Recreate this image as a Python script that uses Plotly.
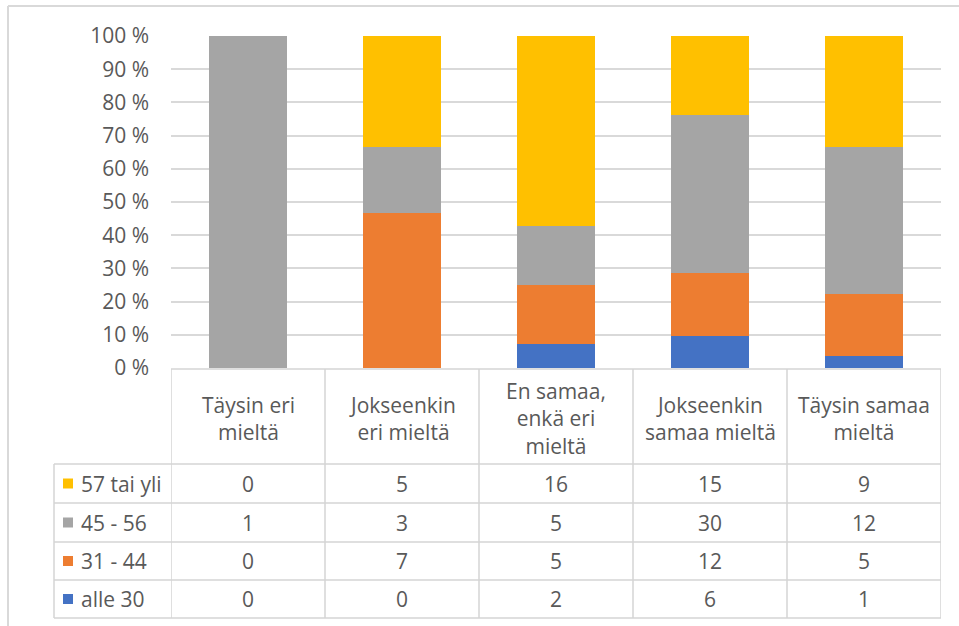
import plotly.graph_objects as go

# ---- data ----
categories = ["Täysin eri mieltä", "Jokseenkin eri mieltä", "En samaa, enkä eri mieltä",
              "Jokseenkin samaa mieltä", "Täysin samaa mieltä"]
header_labels = ["Täysin eri<br>mieltä", "Jokseenkin<br>eri mieltä", "En samaa,<br>enkä eri<br>mieltä",
                 "Jokseenkin<br>samaa mieltä", "Täysin samaa<br>mieltä"]
series_names = ["57 tai yli", "45 - 56", "31 - 44", "alle 30"]   # table order (top to bottom)
v_57 = [0, 5, 16, 15, 9]
v_45 = [1, 3, 5, 30, 12]
v_31 = [0, 7, 5, 12, 5]
v_30 = [0, 0, 2, 6, 1]
series_values = [v_57, v_45, v_31, v_30]
series_colors = ["#FFC000", "#A5A5A5", "#ED7D31", "#4472C4"]
y_ticks = [0, 10, 20, 30, 40, 50, 60, 70, 80, 90, 100]

W, H = 959, 626
FONT = "'Open Sans', 'Liberation Sans', sans-serif"
FS = 21
TXT = "#595959"
LINE = "#D4D4D4"

def px(x):
    return x / W

def py(y):
    return 1 - y / H

fig = go.Figure()
# stack bottom-up: alle 30 first
for name, vals, col in reversed(list(zip(series_names, series_values, series_colors))):
    fig.add_trace(go.Bar(x=categories, y=vals, name=name, marker=dict(color=col, line=dict(width=0))))

shapes = []
# outer frame (top & left visible)
shapes.append(dict(type="line", xref="paper", yref="paper", x0=px(8), x1=1, y0=py(6), y1=py(6),
                   line=dict(color="#D9D9D9", width=2)))
shapes.append(dict(type="line", xref="paper", yref="paper", x0=px(8), x1=px(8), y0=py(6), y1=0,
                   line=dict(color="#D9D9D9", width=2)))

row_tops = [464, 503, 542, 580, 618]
header_top = 369
table_left = 54
# horizontal table lines
shapes.append(dict(type="line", xref="x", yref="paper", x0=-0.5, x1=len(categories) - 0.5,
                   y0=py(header_top), y1=py(header_top), line=dict(color=LINE, width=1.5)))
for yy in row_tops:
    shapes.append(dict(type="line", xref="paper", yref="paper", x0=px(table_left), x1=px(941),
                       y0=py(yy), y1=py(yy), line=dict(color=LINE, width=1.5)))
# vertical table lines
for i in range(len(categories) + 1):
    shapes.append(dict(type="line", xref="x", yref="paper", x0=i - 0.5, x1=i - 0.5,
                       y0=py(header_top), y1=py(row_tops[-1]), line=dict(color=LINE, width=1.5)))
shapes.append(dict(type="line", xref="paper", yref="paper", x0=px(table_left), x1=px(table_left),
                   y0=py(row_tops[0]), y1=py(row_tops[-1]), line=dict(color=LINE, width=1.5)))

annotations = []
for i, lab in enumerate(header_labels):
    annotations.append(dict(x=categories[i], xref="x", y=py(418), yref="paper", text=lab,
                            showarrow=False, xanchor="center", yanchor="middle",
                            font=dict(family=FONT, size=FS, color=TXT)))
for r, (name, vals, col) in enumerate(zip(series_names, series_values, series_colors)):
    yc = (row_tops[r] + row_tops[r + 1]) / 2
    shapes.append(dict(type="rect", xref="paper", yref="paper", x0=px(63), x1=px(73),
                       y0=py(yc - 5), y1=py(yc + 5), fillcolor=col, line=dict(width=0)))
    annotations.append(dict(x=px(79), xref="paper", y=py(yc), yref="paper", text=name,
                            showarrow=False, xanchor="left", yanchor="middle",
                            font=dict(family=FONT, size=FS, color=TXT)))
    for i, v in enumerate(vals):
        annotations.append(dict(x=categories[i], xref="x", y=py(yc), yref="paper", text=str(v),
                                showarrow=False, xanchor="center", yanchor="middle",
                                font=dict(family=FONT, size=FS, color=TXT)))

fig.update_layout(
    width=W, height=H,
    margin=dict(l=0, r=0, t=0, b=0, pad=0, autoexpand=False),
    paper_bgcolor="white", plot_bgcolor="white",
    barmode="stack", barnorm="percent", bargap=0.494,
    showlegend=False,
    font=dict(family=FONT, size=FS, color=TXT),
    xaxis=dict(domain=[px(171), px(941)], showticklabels=False, showgrid=False, zeroline=False,
               showline=False, range=[-0.5, len(categories) - 0.5], fixedrange=True, automargin=False),
    yaxis=dict(domain=[py(368), py(36)], range=[0, 100], tickvals=y_ticks,
               ticktext=[f"{t} %" for t in y_ticks], showgrid=True, gridcolor="#D9D9D9", gridwidth=1.5,
               zeroline=False, showline=False, ticks="", ticklabelstandoff=21, automargin=False,
               tickfont=dict(family=FONT, size=FS, color=TXT)),
    shapes=shapes, annotations=annotations,
)

post = ("document.body.style.margin='0';"
        "var gd=document.getElementById('{plot_id}');"
        "gd.style.position='absolute';gd.style.left='0px';gd.style.top='0px';")
fig.write_html("out.html", post_script=post, config={"displayModeBar": False})
